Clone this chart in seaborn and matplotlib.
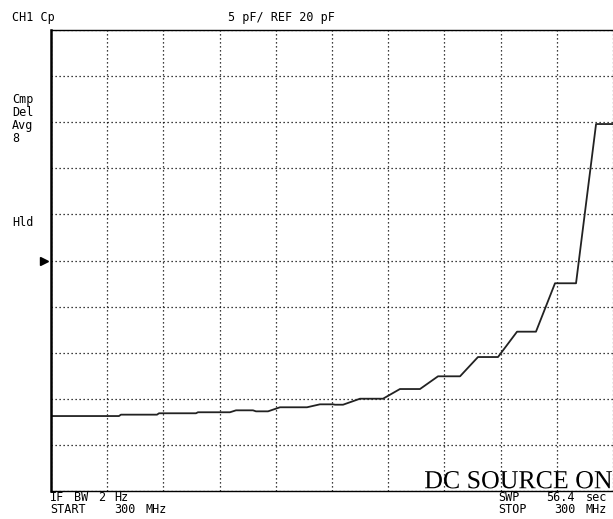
import numpy as np
import pandas as pd
import matplotlib
matplotlib.use("Agg")
import matplotlib.pyplot as plt
import matplotlib.transforms as mtransforms
from matplotlib.textpath import TextPath
from matplotlib.patches import PathPatch
from matplotlib.font_manager import FontProperties
import seaborn as sns

# Capacitance trace (Cp, pF) over a CW sweep at 300 MHz, DC bias source on
sweep_time_s = [0.0, 6.82, 7.02, 10.64, 10.84, 14.55, 14.75, 17.96, 18.57, 20.27,
                20.57, 21.78, 22.98, 25.69, 26.99, 28.30, 28.50, 29.31, 31.01, 33.32,
                35.02, 37.03, 38.84, 41.05, 42.85, 44.86, 46.77, 48.67, 50.58, 52.69,
                54.70, 56.4]
cp_pf = [3.13, 3.13, 3.28, 3.28, 3.43, 3.43, 3.54, 3.54, 3.75, 3.75,
         3.64, 3.64, 4.08, 4.08, 4.40, 4.40, 4.36, 4.36, 5.01, 5.01,
         6.06, 6.06, 7.44, 7.44, 9.53, 9.53, 12.28, 12.28, 17.53, 17.53,
         34.80, 34.80]

scale_pf_per_div = 5
ref_pf = 20
n_div = 10
sweep_total_s = 56.4

header_left = "CH1 Cp"
header_mid = "5 pF/ REF 20 pF"
side_labels = ["Cmp", "Del", "Avg", "8"]
hold_label = "Hld"
footer_left = ["IF BW 2 Hz", "START   300 MHz"]
footer_right = ["SWP   56.4 sec", "STOP   300 MHz"]
banner = "DC SOURCE ON"

df = pd.DataFrame({"t": sweep_time_s, "cp": cp_pf})

sns.set_style("white")
W, H = 613, 519
fig = plt.figure(figsize=(W / 100, H / 100), dpi=100)
fig.patch.set_facecolor("white")

left_px, right_px, top_px, bottom_px = 51, 613, 30, 491
ax = fig.add_axes([left_px / W, (H - bottom_px) / H,
                   (right_px - left_px) / W, (bottom_px - top_px) / H])

sns.lineplot(data=df, x="t", y="cp", ax=ax, color="#222222", linewidth=1.3,
             sort=False, estimator=None)

ymin = ref_pf - scale_pf_per_div * n_div / 2
ymax = ref_pf + scale_pf_per_div * n_div / 2
ax.set_xlim(0, sweep_total_s)
ax.set_ylim(ymin, ymax)
ax.set_xticks(np.linspace(0, sweep_total_s, n_div + 1))
ax.set_yticks(np.linspace(ymin, ymax, n_div + 1))
ax.grid(True, color="black", linestyle=(0, (1, 2.2)), linewidth=0.9)
ax.tick_params(length=0, labelbottom=False, labelleft=False)
ax.set_xlabel("")
ax.set_ylabel("")
ax.spines["right"].set_visible(False)
ax.spines["left"].set_linewidth(1.8)
ax.spines["top"].set_linewidth(1.0)
ax.spines["bottom"].set_linewidth(1.0)
for s in ax.spines.values():
    s.set_color("black")

# reference position marker on the left edge
trans = mtransforms.blended_transform_factory(ax.transAxes, ax.transData)
ax.plot([-0.013], [ref_pf], marker=">", markersize=6, color="black",
        transform=trans, clip_on=False, linestyle="none")

mono = dict(family="DejaVu Sans Mono", fontsize=8.5, color="black", va="center")


def px_text(x, y, s, **kw):
    opts = dict(mono)
    opts.update(kw)
    fig.text(x / W, 1 - y / H, s, **opts)


def cell_text(x0, y, s, cell=8.0):
    """Place each word of s on a fixed character grid (cell px per char)."""
    idx = 0
    for word in s.split(" "):
        if word:
            px_text(x0 + cell * idx, y, word)
        idx += len(word) + 1


px_text(12, 17, header_left)
px_text(228, 17, header_mid)
for i, lab in enumerate(side_labels):
    px_text(12, 100 + 13 * i, lab)
px_text(12, 223, hold_label)
cell_text(50, 497.5, footer_left[0])
cell_text(50, 509.5, footer_left[1])
cell_text(498, 497.5, footer_right[0])
cell_text(498, 509.5, footer_right[1])

# large condensed serif status banner, fitted into its box (pixel units)
tp = TextPath((0, 0), banner, size=1, prop=FontProperties(family="Liberation Serif"))
ext = tp.get_extents()
bx0, bx1 = 425, 612
by_base, by_top = 488.5, 471.0
sx = (bx1 - bx0) / ext.width
sy = (by_base - by_top) / ext.height
tr = (mtransforms.Affine2D().translate(-ext.x0, -ext.y0).scale(sx, sy)
      .translate(bx0, H - by_base))
fig.add_artist(PathPatch(tp, transform=tr, facecolor="black", edgecolor="none"))

fig.savefig("out.png", dpi=100)
